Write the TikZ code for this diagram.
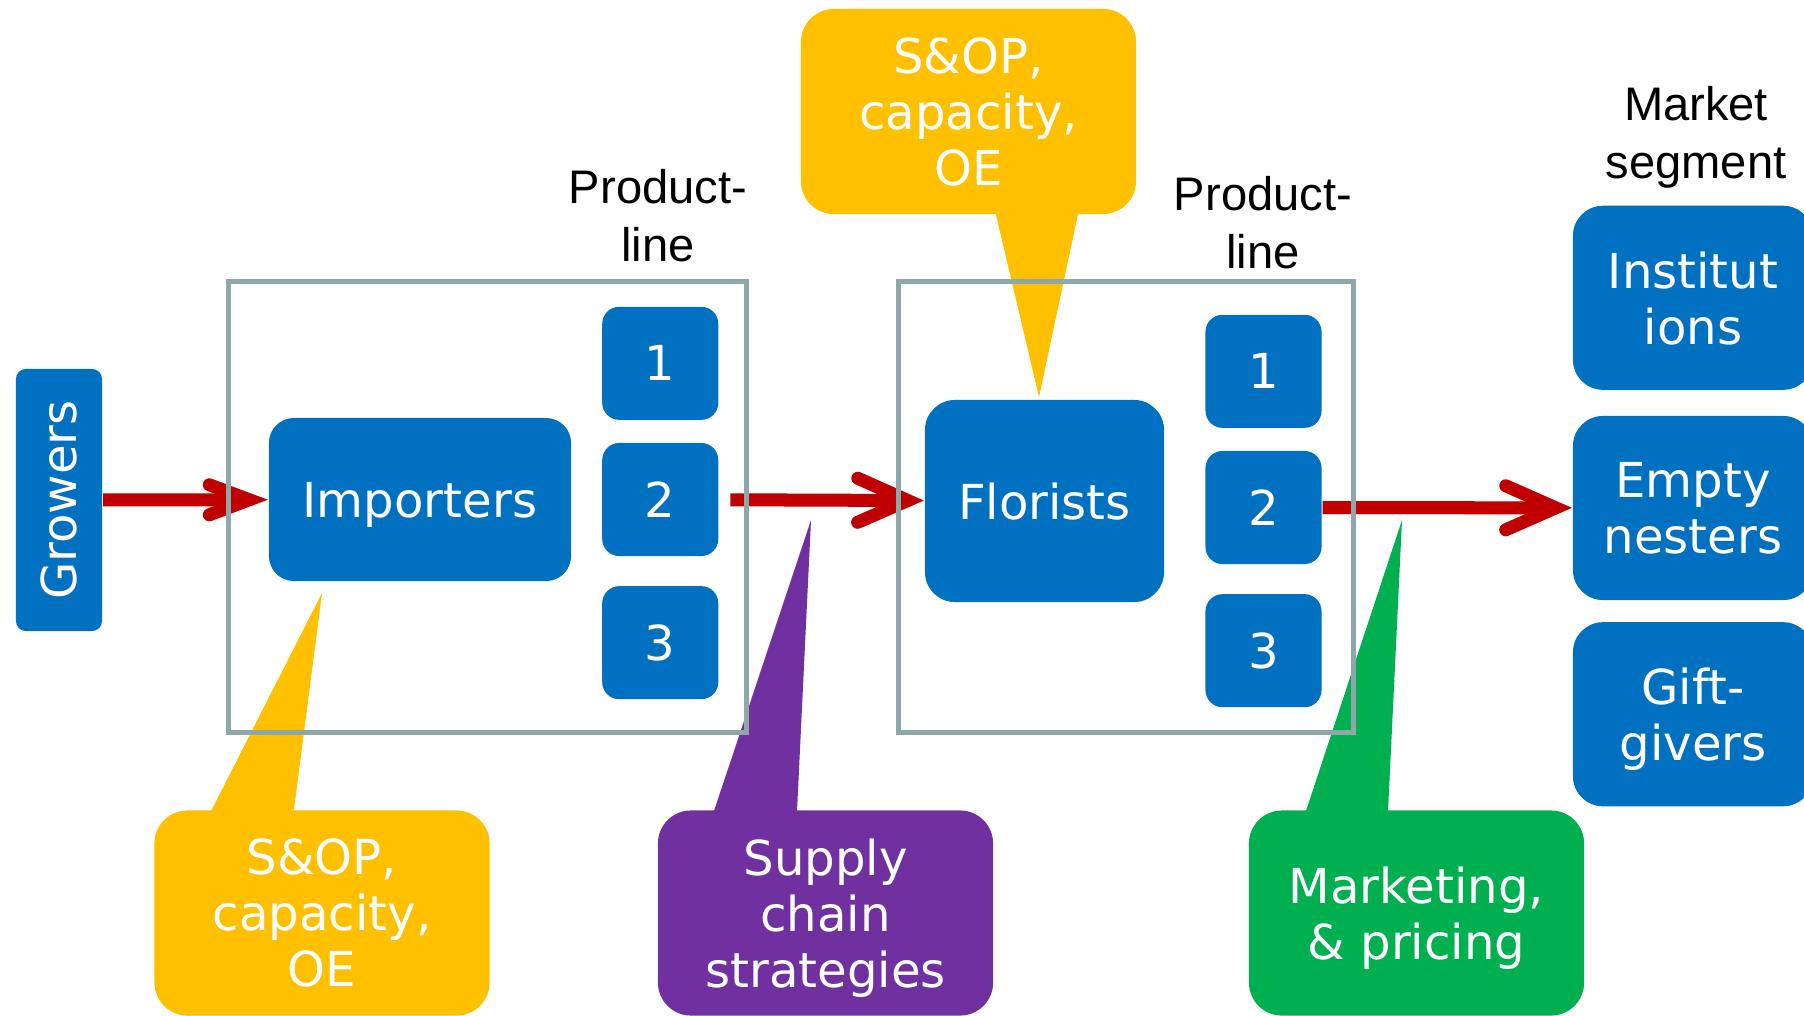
\documentclass[tikz,border=0pt]{standalone}
\usepackage{fontspec}
\setmainfont{DejaVu Sans}
\newfontfamily\arialfont{Liberation Sans}
\usetikzlibrary{arrows.meta,positioning,calc}

\definecolor{flowblue}{HTML}{0070C0}
\definecolor{flowred}{HTML}{C00000}
\definecolor{framegray}{HTML}{8EA7A9}
\definecolor{noteyellow}{HTML}{FFC000}
\definecolor{notepurple}{HTML}{7030A0}
\definecolor{notegreen}{HTML}{00B050}

\newcommand{\boxfont}{\fontsize{13.7}{15.9}\selectfont}
\newcommand{\headfont}{\arialfont\fontsize{13.4}{16.5}\selectfont}

\begin{document}
\begin{tikzpicture}[x=0.01cm, y=-0.01cm, node distance=0.21cm, semithick,
                    bigtip/.tip={Straight Barb[length=0.5cm, width=0.44cm, line cap=round, line join=miter]},
                    smalltip/.tip={Straight Barb[length=0.4cm, width=0.3cm, line cap=round, line join=miter]}]

  \tikzstyle{block} = [rectangle, fill=flowblue, text=white, font=\boxfont, align=center, inner sep=0pt, text depth=0pt]
  \tikzstyle{line box} = [block, minimum width=1.16cm, minimum height=1.13cm, rounded corners=0.17cm]
  \tikzstyle{segbox} = [block, minimum width=2.40cm, minimum height=1.84cm, rounded corners=0.3cm]
  \tikzstyle{note} = [rectangle, text=white, font=\boxfont, align=center, inner sep=0pt, text depth=0pt,
                      minimum width=3.35cm, minimum height=2.05cm, rounded corners=0.33cm]
  \tikzstyle{framebox} = [draw=framegray, line width=1.4pt, inner sep=0pt]
  \tikzstyle{flowline} = [draw=flowred, line width=3.7pt]
  \tikzstyle{heading} = [font=\headfont, align=center, text=black, inner sep=0pt]

  \useasboundingbox (0,0) rectangle (1804,1015);

  % chain of blocks
  \node[block, rotate=90, minimum width=2.62cm, minimum height=0.86cm, rounded corners=0.1cm] (growers) at (59,500) {Growers};
  \node[block, minimum width=3.02cm, minimum height=1.63cm, rounded corners=0.25cm] (importers) at (420,499.5) {Importers};
  \node[line box] (pa2) [right=0.29cm of importers] {2};
  \node[line box] (pa1) [above=0.21cm of pa2]       {1};
  \node[line box] (pa3) [below=0.28cm of pa2]       {3};

  \node[block, minimum width=2.39cm, minimum height=2.02cm, rounded corners=0.3cm] (florists) at (1044.5,501) {Florists};
  \node[line box] (pb2) at (1263.5,507.5)           {2};
  \node[line box] (pb1) [above=0.21cm of pb2]       {1};
  \node[line box] (pb3) [below=0.28cm of pb2]       {3};

  \node[segbox] (nesters) at (1693,508)             {Empty\\nesters};
  \node[segbox] (institutions) [above=0.24cm of nesters] {Institut\\ions};
  \node[segbox] (givers) [below=0.20cm of nesters]  {Gift-\\givers};

  \node[heading] (lineA)  at (658,216)  {Product-\\line};
  \node[heading] (lineB)  at (1263,223) {Product-\\line};
  \node[heading] (market) at (1696,137) {Market\\segment};

  % flows
  \path[flowline] (growers) edge[-smalltip] (importers)
                  (pa2)     edge[-bigtip, shorten <=0.11cm] (florists)
                  (pb2)     edge[-bigtip] (nesters);

  % callouts
  \node[note, fill=noteyellow] (opsTop)    at (968.5,111.5) {S\&OP,\\capacity,\\OE};
  \node[note, fill=noteyellow] (opsBottom) at (322,913)     {S\&OP,\\capacity,\\OE};
  \node[note, fill=notepurple] (supply)    at (825.5,913)   {Supply\\chain\\strategies};
  \node[note, fill=notegreen]  (pricing)   at (1416.5,913)  {Marketing,\\\& pricing};

  \coordinate (tipTop)     at (1039,397);
  \coordinate (tipBottom)  at (322,593);
  \coordinate (tipSupply)  at (811,520);
  \coordinate (tipPricing) at (1402,520);

  \fill[noteyellow] ($(opsTop.south west)+(195,-5)$) -- (tipTop) -- ($(opsTop.south west)+(279,-5)$) -- cycle;
  \fill[noteyellow] ($(opsBottom.north west)+(56,5)$) -- (tipBottom) -- ($(opsBottom.north west)+(140,5)$) -- cycle;
  \fill[notepurple] ($(supply.north west)+(56,5)$) -- (tipSupply) -- ($(supply.north west)+(140,5)$) -- cycle;
  \fill[notegreen]  ($(pricing.north west)+(57,5)$) -- (tipPricing) -- ($(pricing.north west)+(140,5)$) -- cycle;

  % product-line frames
  \node[framebox, minimum width=5.17cm, minimum height=4.5cm] (groupA) at (487.5,507) {};
  \node[framebox, minimum width=4.54cm, minimum height=4.5cm] (groupB) at (1126,507)  {};

\end{tikzpicture}
\end{document}
